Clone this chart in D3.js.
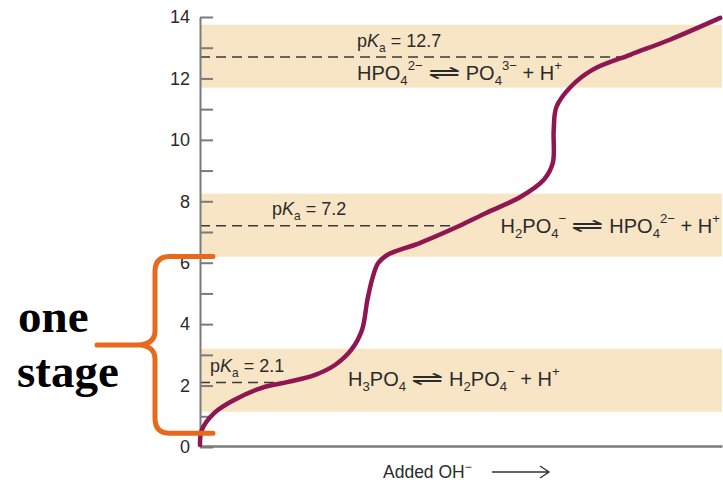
<!DOCTYPE html>
<html>
<head>
<meta charset="utf-8">
<script src="https://cdn.jsdelivr.net/npm/d3@7"></script>
<style>
  body { margin: 0; background: #fff; }
  svg { display: block; font-family: "Liberation Sans", Arial, sans-serif; }
</style>
</head>
<body>
<script>
// titration curve: added OH- (equivalents) vs pH
const curveOH = [0.00, 0.01, 0.08, 0.19, 0.34, 0.49, 0.64, 0.75, 0.84, 0.90, 0.93, 0.96, 0.99, 1.04,
  1.22, 1.43, 1.59, 1.78, 1.91, 1.96, 1.965, 1.98, 2.06, 2.18, 2.39, 2.61, 2.89]
const curvePH = [0.07, 0.55, 1.11, 1.53, 1.92, 2.12, 2.35, 2.67, 3.16, 3.81, 4.79, 5.54, 5.99, 6.25,
  6.64, 7.17, 7.62, 8.14, 8.70, 9.25, 10.33, 11.07, 11.73, 12.28, 12.77, 13.26, 13.97]

const pKas = [2.1, 7.2, 12.7]
const bandLow = [1.15, 6.2, 11.7]
const bandHigh = [3.2, 8.25, 13.75]
const yTicks = d3.range(0, 15)
const stageRange = [0.45, 6.2]

const width = 723
const height = 482
const margin = { left: 200, right: 1, top: 17, bottom: 35 }

const xScale = d3.scaleLinear()
  .domain([0, 2.9])
  .range([margin.left, width - margin.right])

const yScale = d3.scaleLinear()
  .domain([0, 14])
  .range([height - margin.bottom, margin.top])

const svg = d3.select('body').append('svg')
  .attr('width', width)
  .attr('height', height)

// buffer bands around each pKa
svg.append('g').selectAll('rect')
  .data(pKas)
  .join('rect')
  .attr('x', xScale(0))
  .attr('width', xScale.range()[1] - xScale(0))
  .attr('y', (d, i) => yScale(bandHigh[i]))
  .attr('height', (d, i) => yScale(bandLow[i]) - yScale(bandHigh[i]))
  .attr('fill', '#f8e5c6')

// where the curve crosses each pKa
const points = curveOH.map((x, i) => [x, curvePH[i]])
function crossing(p) {
  for (let i = 1; i < points.length; i++) {
    const [x0, y0] = points[i - 1]
    const [x1, y1] = points[i]
    if (y0 <= p && y1 >= p) return x0 + (x1 - x0) * (p - y0) / (y1 - y0)
  }
  return 0
}

svg.append('g').selectAll('line')
  .data(pKas)
  .join('line')
  .attr('x1', xScale(0))
  .attr('x2', d => xScale(crossing(d)))
  .attr('y1', d => yScale(d))
  .attr('y2', d => yScale(d))
  .attr('stroke', '#3a3a3a')
  .attr('stroke-width', 1.5)
  .attr('stroke-dasharray', '10,6')

// axes
const yAxis = d3.axisLeft(yScale)
  .tickValues(yTicks)
  .tickSizeInner(-13)
  .tickSizeOuter(0)
  .tickPadding(10)
  .tickFormat(d => d % 2 === 0 ? d : '')

const gy = svg.append('g')
  .attr('transform', `translate(${margin.left},0)`)
  .call(yAxis)
gy.selectAll('line, path').attr('stroke', '#7a7a7a').attr('stroke-width', 2)
gy.selectAll('text').attr('font-size', 18).attr('fill', '#2b2b2b')

const gx = svg.append('g')
  .attr('transform', `translate(0,${yScale(0) - 1})`)
  .call(d3.axisBottom(xScale).ticks(0).tickSizeOuter(0))
gx.select('path').attr('stroke', '#7a7a7a').attr('stroke-width', 2.5)

// curve
const line = d3.line()
  .x(d => xScale(d[0]))
  .y(d => yScale(d[1]))
  .curve(d3.curveCatmullRom.alpha(0.5))

svg.append('path')
  .datum(points)
  .attr('d', line)
  .attr('fill', 'none')
  .attr('stroke', '#8f1651')
  .attr('stroke-width', 4.5)
  .attr('stroke-linecap', 'round')

// chemistry labels
function chem(parent, x, y, parts, size) {
  const t = parent.append('text')
    .attr('x', x)
    .attr('y', y)
    .attr('font-size', size)
    .attr('fill', '#2b2b2b')
  let shift = 0
  for (const [str, kind] of parts) {
    let target = 0
    if (kind === 'sub') target = size * 0.25
    if (kind === 'sup') target = -size * 0.48
    const ts = t.append('tspan')
      .attr('dy', target - shift)
      .text(str)
    shift = target
    if (kind === 'sub' || kind === 'sup') ts.attr('font-size', size * 0.66)
    if (kind === 'it') ts.attr('font-style', 'italic')
  }
  return t
}

// left side, stretched equilibrium arrow, right side; kept inside the picture
function reaction(x, y, left, right, size) {
  const g = svg.append('g')
  const l = chem(g, x, y, left, size)
  const lEnd = x + l.node().getComputedTextLength()
  const a = g.append('text')
    .attr('font-size', size)
    .attr('fill', '#2b2b2b')
    .text('\u21cc')
  const aw = a.node().getComputedTextLength()
  const arrowW = 33
  a.attr('transform', `translate(${lEnd + 5},${y - 1}) scale(${arrowW / aw},1)`)
  const r = chem(g, lEnd + 5 + arrowW + 5, y, right, size)
  const rEnd = lEnd + 10 + arrowW + r.node().getComputedTextLength()
  if (rEnd > width - 3) g.attr('transform', `translate(${width - 3 - rEnd},0)`)
}

const pkaText = v => [['p'], ['K', 'it'], ['a', 'sub'], [' = ' + v]]

chem(svg, 357, 47, pkaText('12.7'), 18)
reaction(357, 80,
  [['HPO'], ['4', 'sub'], ['2\u2212', 'sup']],
  [['PO'], ['4', 'sub'], ['3\u2212', 'sup'], [' + H'], ['+', 'sup']], 20)

chem(svg, 272, 215, pkaText('7.2'), 18)
reaction(508, 233,
  [['H'], ['2', 'sub'], ['PO'], ['4', 'sub'], ['\u2212', 'sup']],
  [['HPO'], ['4', 'sub'], ['2\u2212', 'sup'], [' + H'], ['+', 'sup']], 20)

chem(svg, 210, 372, pkaText('2.1'), 18)
reaction(348, 386,
  [['H'], ['3', 'sub'], ['PO'], ['4', 'sub']],
  [['H'], ['2', 'sub'], ['PO'], ['4', 'sub'], ['\u2212', 'sup'], [' + H'], ['+', 'sup']], 20)

// x axis label with arrow
const xl = svg.append('text')
  .attr('x', 383)
  .attr('y', 478)
  .attr('font-size', 17.5)
  .attr('fill', '#2b2b2b')
xl.append('tspan').text('Added OH')
xl.append('tspan').attr('dy', -7).attr('font-size', 12).text('\u2212')

svg.append('path')
  .attr('d', 'M492,472 L549,472 M540,466 L549,472 L540,478')
  .attr('fill', 'none')
  .attr('stroke', '#333')
  .attr('stroke-width', 1.4)

// "one stage" bracket
const bTop = yScale(stageRange[1])
const bBot = yScale(stageRange[0])
const bMid = (bTop + bBot) / 2
const bx = 155
svg.append('path')
  .attr('d', `M213,${bTop} L170,${bTop} Q${bx},${bTop} ${bx},${bTop + 15} L${bx},${bMid - 14}
    Q${bx},${bMid - 1} 138,${bMid} L97,${bMid}
    M138,${bMid} Q${bx},${bMid + 1} ${bx},${bMid + 14} L${bx},${bBot - 15}
    Q${bx},${bBot} 170,${bBot} L213,${bBot}`)
  .attr('fill', 'none')
  .attr('stroke', '#e8681c')
  .attr('stroke-width', 5)
  .attr('stroke-linecap', 'round')
  .attr('stroke-linejoin', 'round')

svg.append('text')
  .attr('x', 18)
  .attr('y', 332)
  .attr('font-family', '"Liberation Serif", "Times New Roman", serif')
  .attr('font-weight', 'bold')
  .attr('font-size', 47)
  .attr('fill', '#000')
  .text('one')

svg.append('text')
  .attr('x', 17)
  .attr('y', 387)
  .attr('font-family', '"Liberation Serif", "Times New Roman", serif')
  .attr('font-weight', 'bold')
  .attr('font-size', 47)
  .attr('fill', '#000')
  .text('stage')
</script>
</body>
</html>
